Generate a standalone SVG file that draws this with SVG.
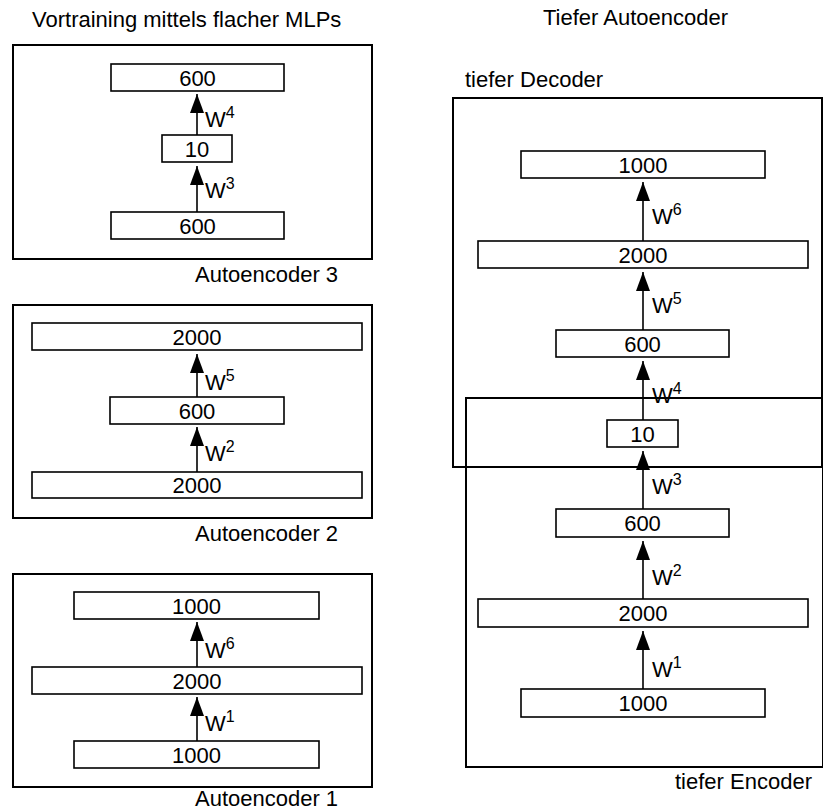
<svg xmlns="http://www.w3.org/2000/svg" width="823" height="811" viewBox="0 0 823 811">
<defs>
<marker id="ah" viewBox="0 0 19 14" refX="19" refY="7" markerWidth="19" markerHeight="14" orient="auto" markerUnits="userSpaceOnUse">
<path d="M0,0 L19,7 L0,14 Z" fill="#000"/>
</marker>
<style>
text{font-family:"Liberation Sans",Arial,Helvetica,sans-serif;fill:#000}
.t{font-size:22px}
.n{font-size:22px;text-anchor:middle}
.s{font-size:16px}
.box{fill:#fff;stroke:#000;stroke-width:1.6}
.frame{fill:none;stroke:#000;stroke-width:2}
.arr{stroke:#000;stroke-width:1.6;fill:none;marker-end:url(#ah)}
</style>
</defs>
<rect width="823" height="811" fill="#fff"/>

<text class="t" x="32" y="27">Vortraining mittels flacher MLPs</text>
<text class="t" x="543" y="25">Tiefer Autoencoder</text>

<g id="ae3">
<rect class="frame" x="13" y="45" width="359" height="214"/>
<text class="t" x="195" y="282">Autoencoder 3</text>
</g>
<g id="ae2">
<rect class="frame" x="13" y="305" width="359" height="213"/>
<text class="t" x="195" y="541">Autoencoder 2</text>
</g>
<g id="ae1">
<rect class="frame" x="13" y="574" width="359" height="213"/>
<text class="t" x="195" y="806">Autoencoder 1</text>
</g>
<g id="decoder">
<rect class="frame" x="453" y="98" width="369" height="369"/>
<text class="t" x="465" y="87">tiefer Decoder</text>
</g>
<g id="encoder">
<rect class="frame" x="466" y="398" width="357" height="369"/>
<text class="t" x="675" y="789">tiefer Encoder</text>
</g>

<g id="connectors">
<line class="arr" x1="197" y1="135" x2="197" y2="94"/>
<line class="arr" x1="197" y1="212" x2="197" y2="166"/>
<line class="arr" x1="197" y1="397" x2="197" y2="354"/>
<line class="arr" x1="197" y1="472" x2="197" y2="427"/>
<line class="arr" x1="197" y1="667" x2="197" y2="622"/>
<line class="arr" x1="197" y1="741" x2="197" y2="697"/>
<line class="arr" x1="643" y1="241" x2="643" y2="182"/>
<line class="arr" x1="643" y1="330" x2="643" y2="272"/>
<line class="arr" x1="643" y1="420" x2="643" y2="361"/>
<line class="arr" x1="643" y1="509" x2="643" y2="451"/>
<line class="arr" x1="643" y1="599" x2="643" y2="541"/>
<line class="arr" x1="643" y1="689" x2="643" y2="631"/>
<text class="t" x="205" y="127">W<tspan class="s" dy="-9">4</tspan></text>
<text class="t" x="205" y="198">W<tspan class="s" dy="-9">3</tspan></text>
<text class="t" x="205" y="390">W<tspan class="s" dy="-9">5</tspan></text>
<text class="t" x="205" y="461">W<tspan class="s" dy="-9">2</tspan></text>
<text class="t" x="205" y="658">W<tspan class="s" dy="-9">6</tspan></text>
<text class="t" x="205" y="731">W<tspan class="s" dy="-9">1</tspan></text>
<text class="t" x="652" y="224">W<tspan class="s" dy="-9">6</tspan></text>
<text class="t" x="652" y="313">W<tspan class="s" dy="-9">5</tspan></text>
<text class="t" x="652" y="403">W<tspan class="s" dy="-9">4</tspan></text>
<text class="t" x="652" y="494">W<tspan class="s" dy="-9">3</tspan></text>
<text class="t" x="652" y="585">W<tspan class="s" dy="-9">2</tspan></text>
<text class="t" x="652" y="677">W<tspan class="s" dy="-9">1</tspan></text>
</g>

<g id="ae3-out"><rect class="box" x="111" y="64" width="173" height="27"/><text class="n" x="197.5" y="86">600</text></g>
<g id="ae3-code"><rect class="box" x="162" y="135" width="70" height="27"/><text class="n" x="197" y="157">10</text></g>
<g id="ae3-in"><rect class="box" x="111" y="212" width="173" height="27"/><text class="n" x="197.5" y="234">600</text></g>

<g id="ae2-out"><rect class="box" x="32" y="323" width="330" height="27"/><text class="n" x="197" y="345">2000</text></g>
<g id="ae2-code"><rect class="box" x="110" y="397" width="174" height="27"/><text class="n" x="197" y="419">600</text></g>
<g id="ae2-in"><rect class="box" x="32" y="472" width="330" height="26"/><text class="n" x="197" y="493">2000</text></g>

<g id="ae1-out"><rect class="box" x="74" y="592" width="245" height="27"/><text class="n" x="196.5" y="614">1000</text></g>
<g id="ae1-code"><rect class="box" x="32" y="667" width="330" height="27"/><text class="n" x="197" y="689">2000</text></g>
<g id="ae1-in"><rect class="box" x="74" y="741" width="245" height="27"/><text class="n" x="196.5" y="763">1000</text></g>

<g id="d-1000"><rect class="box" x="521" y="151" width="244" height="27"/><text class="n" x="643" y="173">1000</text></g>
<g id="d-2000"><rect class="box" x="478" y="241" width="330" height="27"/><text class="n" x="643" y="263">2000</text></g>
<g id="d-600"><rect class="box" x="556" y="330" width="173" height="27"/><text class="n" x="642.5" y="352">600</text></g>
<g id="code-10"><rect class="box" x="607" y="420" width="71" height="27"/><text class="n" x="642.5" y="442">10</text></g>
<g id="e-600"><rect class="box" x="556" y="509" width="173" height="28"/><text class="n" x="642.5" y="531">600</text></g>
<g id="e-2000"><rect class="box" x="478" y="599" width="330" height="28"/><text class="n" x="643" y="621">2000</text></g>
<g id="e-1000"><rect class="box" x="521" y="689" width="244" height="28"/><text class="n" x="643" y="711">1000</text></g>
</svg>
